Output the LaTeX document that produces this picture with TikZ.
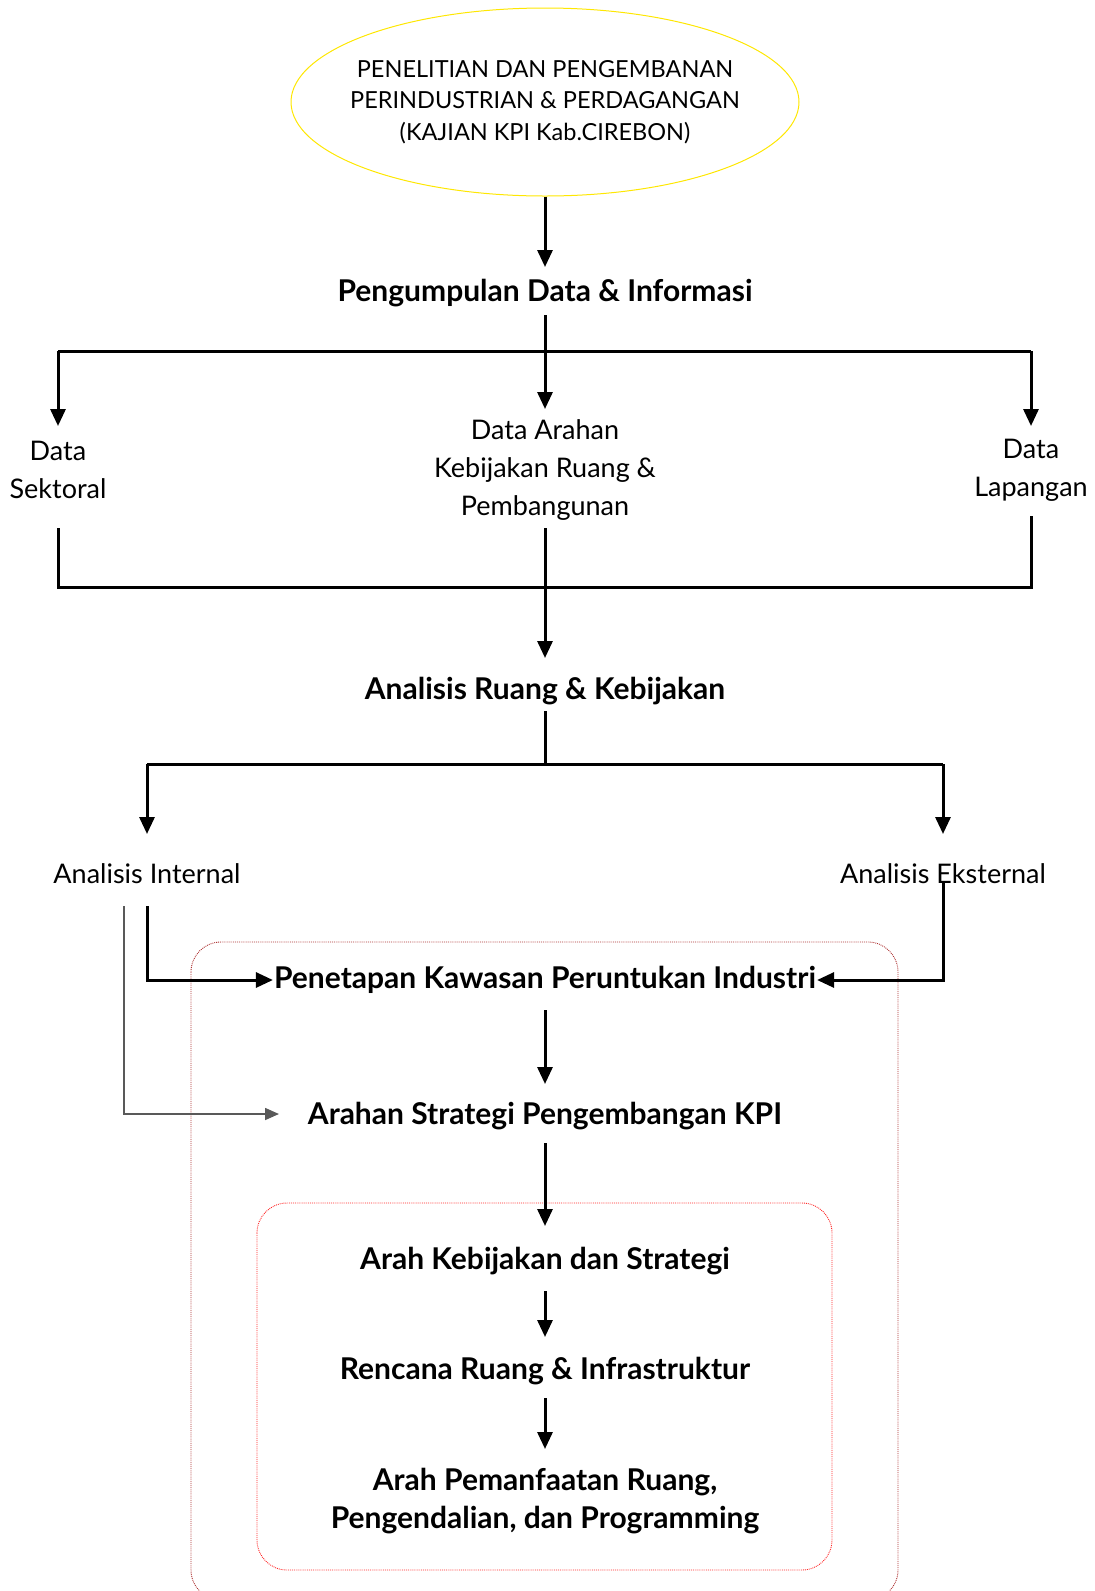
\documentclass[tikz,border=0pt]{standalone}
\usepackage{fontspec}
\setmainfont{Lato}
\usetikzlibrary{arrows.meta,shapes.geometric}
\begin{document}
\begin{tikzpicture}[x=1pt,y=-1pt,
  conn/.style={line width=3pt,-{Triangle[width=15pt,length=17pt]}},
  plain/.style={line width=3pt},
  grayconn/.style={line width=1.6pt,draw=black!65,-{Triangle[width=12pt,length=14pt]},color=black!65},
  head/.style={font=\fontsize{30}{36}\selectfont\bfseries,inner sep=1pt},
  lbl/.style={font=\fontsize{27}{38}\selectfont,align=center,inner sep=2pt},
  outerbox/.style={draw=red!60!black!80,densely dotted,line width=0.9pt,rounded corners=30pt},
  innerbox/.style={draw=red!85,densely dotted,line width=0.9pt,rounded corners=30pt}]
\useasboundingbox (0,0) rectangle (1095,1591);
% boxes
\draw[outerbox] (191,942) rectangle (898,1600);
\draw[innerbox] (257,1203) rectangle (832,1570);
% top ellipse
\node[ellipse,draw=yellow!90!orange,line width=1pt,minimum width=508pt,minimum height=188pt,inner sep=0pt] (top) at (545,102) {};
\node[font=\fontsize{23.5}{31.5}\selectfont,align=center] (toptext) at (top.center)
  {PENELITIAN DAN PENGEMBANAN\\PERINDUSTRIAN \& PERDAGANGAN\\(KAJIAN KPI Kab.CIREBON)};
\node[head] (pd) at (545,293) {Pengumpulan Data \& Informasi};
\node[lbl] (ds) at (58,470) {Data\\Sektoral};
\node[lbl] (da) at (545,470) {Data Arahan\\Kebijakan Ruang \&\\Pembangunan};
\node[lbl] (dl) at (1031,470) {Data\\Lapangan};
\node[head] (ar) at (545,691) {Analisis Ruang \& Kebijakan};
\node[lbl] (ai) at (147,874) {Analisis Internal};
\node[lbl] (ae) at (943,874) {Analisis Eksternal};
\node[head] (pk) at (545,980) {Penetapan Kawasan Peruntukan Industri};
\node[head] (as) at (545,1116) {Arahan Strategi Pengembangan KPI};
\node[head] (ak) at (545,1261) {Arah Kebijakan dan Strategi};
\node[head] (rr) at (545,1371) {Rencana Ruang \& Infrastruktur};
\node[head,align=center,font=\fontsize{30}{38}\selectfont\bfseries] (ap) at (545,1501) {Arah Pemanfaatan Ruang,\\Pengendalian, dan Programming};
% coordinates
\coordinate (hl) at (58,351);
\coordinate (hr) at (1031,351);
\coordinate (dsEnd) at (58,426);
\coordinate (dlEnd) at (1031,426);
\coordinate (b1) at (58,587);
\coordinate (b2) at (1031,587);
\coordinate (m1) at (545,764);
\coordinate (ml) at (147,764);
\coordinate (mr) at (943,764);
% connectors
\draw[conn] (top.south) -- (545,267);
\draw[conn] (545,315) -- (545,409);
\draw[plain] (hl) -- (hr);
\draw[conn] (hl) -- (dsEnd);
\draw[conn] (hr) -- (dlEnd);
\draw[plain] (58,528) -- (b1) -- (b2) -- (1031,516);
\draw[conn] (545,528) -- (545,658);
\draw[plain] (545,711) -- (m1);
\draw[plain] (ml) -- (mr);
\draw[conn] (ml) -- (147,834);
\draw[conn] (mr) -- (943,834);
\draw[conn] (147,906) |- (pk.west);
\draw[conn] (943,882) |- (pk.east);
\draw[grayconn] (124,906) |- (279,1114);
\draw[conn] (545,1010) -- (545,1084);
\draw[conn] (545,1143) -- (545,1226);
\draw[conn] (545,1291) -- (545,1337);
\draw[conn] (545,1398) -- (545,1449);
\end{tikzpicture}
\end{document}
